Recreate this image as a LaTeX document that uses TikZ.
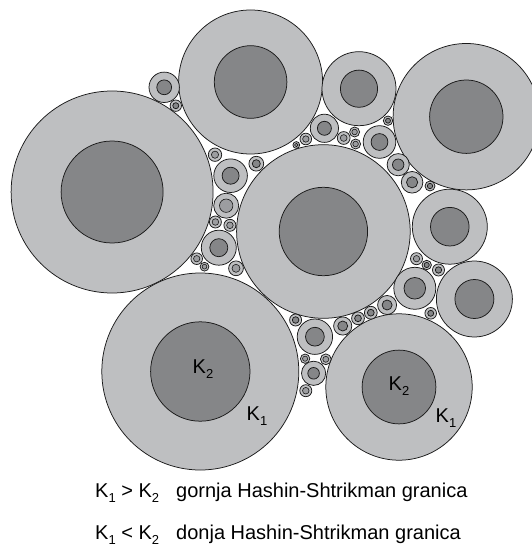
\documentclass[tikz,border=0pt]{standalone}
\usepackage{fontspec}
\setmainfont{Liberation Sans}
\definecolor{ringgray}{HTML}{BEBFC1}
\definecolor{coregray}{HTML}{858688}
\definecolor{corelight}{HTML}{9C9DA0}
\definecolor{edgegray}{HTML}{1A1A1A}
\tikzset{
  ringK/.style={fill=ringgray, draw=edgegray, line width=0.75pt},
  coreK/.style={fill=coregray, draw=edgegray, line width=0.75pt},
  coreL/.style={fill=corelight, draw=edgegray, line width=0.6pt},
  lbl/.style={font=\fontsize{20}{24}\selectfont, inner sep=0pt},
  legend/.style={font=\fontsize{20}{24}\selectfont, inner sep=0pt, anchor=base west}
}
\newcommand\hsc[4]{\filldraw[ringK] (#1,#2) circle[radius=#3]; \filldraw[coreK] (#1,#2) circle[radius=#4];}
\newcommand\hsl[4]{\filldraw[ringK] (#1,#2) circle[radius=#3]; \filldraw[coreL] (#1,#2) circle[radius=#4];}
\newcommand\ksub[1]{\raisebox{-0.5ex}{\fontsize{13}{13}\selectfont #1}}
\begin{document}
\begin{tikzpicture}[x=1pt,y=-1pt]
\useasboundingbox[fill=white] (0,0) rectangle (531,553);
% large coated spheres
\hsc{112.1}{192}{101}{51}
\hsc{250.6}{82}{72}{36.3}
\hsc{323.4}{231.5}{86.8}{44.2}
\hsc{359}{88.7}{37}{18.6}
\hsc{466.3}{116.7}{73.2}{36.7}
\hsc{449.8}{226.7}{37.5}{19.3}
\hsc{474.4}{299}{38}{19.5}
\hsc{200.3}{371.5}{98.5}{49.7}
\hsc{399}{387}{73.2}{36.9}
% small coated spheres
\hsc{164.2}{87.3}{15.2}{7.4}
\hsc{175.8}{105.7}{5.7}{3}
\hsc{324.4}{128.3}{14.1}{7}
\hsc{379.5}{142}{16.3}{8.4}
\hsc{388}{120.7}{4.7}{2.5}
\hsl{354.6}{132}{5}{2.8}
\hsl{355.6}{144}{5}{2.8}
\hsl{343.7}{138}{6.4}{3.4}
\hsl{305.8}{139}{5.8}{3.2}
\hsl{296.3}{145}{3.4}{1.8}
\hsc{398.2}{164.7}{11.1}{5.7}
\hsc{412.1}{182.3}{10.8}{5.6}
\hsc{430}{186}{5}{2.7}
\hsl{215}{154.7}{6.7}{3.6}
\hsc{230.6}{175.7}{16.8}{8.5}
\hsc{256.3}{163.7}{7.4}{4}
\hsl{226.2}{205.7}{12.5}{6.7}
\hsl{215.4}{222}{6}{3.3}
\hsl{229.9}{225.3}{6}{3.3}
\hsc{218.8}{247.7}{17.5}{9}
\hsl{196.7}{258.7}{5.8}{3.2}
\hsl{204.5}{266.7}{4.4}{2.4}
\hsl{236}{268.3}{7.4}{4}
\hsl{416.5}{258.7}{6}{3.2}
\hsc{426.7}{265}{4.7}{2.6}
\hsc{438.5}{270}{6}{3.2}
\hsc{414.8}{288.3}{21}{10.8}
\hsc{430.7}{313.3}{5.8}{3}
\hsc{387.1}{305}{9.5}{5}
\hsc{370.8}{312.7}{6.4}{3.4}
\hsc{358}{318.3}{6.4}{3.4}
\hsc{342.7}{326}{9.1}{5}
\hsc{295.6}{320}{6}{3.3}
\hsc{314.9}{336.7}{17.7}{9.4}
\hsl{305.1}{358.7}{4.7}{2.6}
\hsl{325.8}{359.3}{5.4}{3}
\hsc{313.6}{373.3}{12.1}{5.8}
\hsl{305.8}{390.7}{6}{3.3}
% labels
\node[lbl] (k2a) at (203,369) {K\ksub{2}};
\node[lbl] (k1a) at (257,416) {K\ksub{1}};
\node[lbl] (k2b) at (399,386) {K\ksub{2}};
\node[lbl] (k1b) at (446,418) {K\ksub{1}};
% legend
\node[legend] (l1a) at (95,497) {K\ksub{1} > K\ksub{2}};
\node[legend] (l1b) at (176,497) {gornja Hashin-Shtrikman granica};
\node[legend] (l2a) at (95,539) {K\ksub{1} < K\ksub{2}};
\node[legend] (l2b) at (176,539) {donja Hashin-Shtrikman granica};
\end{tikzpicture}
\end{document}
